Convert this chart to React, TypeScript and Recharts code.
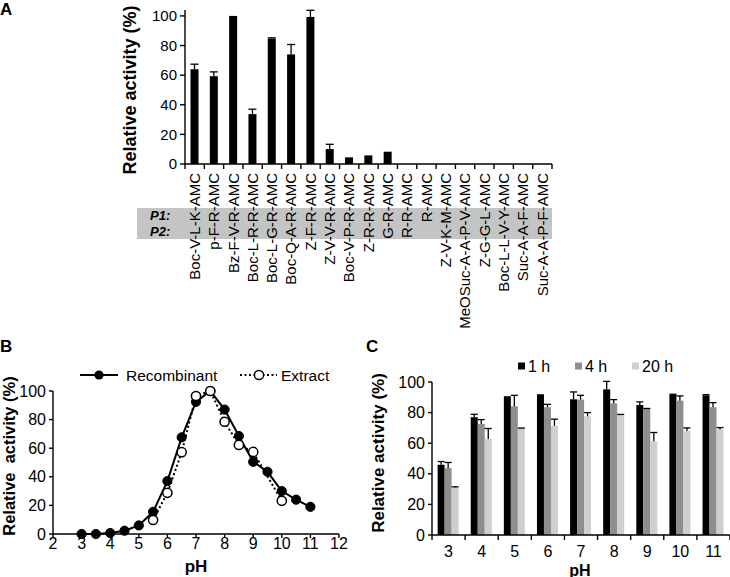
import React from "react";
import { BarChart, Bar, XAxis, YAxis, LineChart, Line } from "recharts";

const FONT = "'Liberation Sans', Arial, Helvetica, sans-serif";

// A: substrate specificity
const substrates = [
  "Boc-V-L-K-AMC",
  "p-F-R-AMC",
  "Bz-F-V-R-AMC",
  "Boc-L-R-R-AMC",
  "Boc-L-G-R-AMC",
  "Boc-Q-A-R-AMC",
  "Z-F-R-AMC",
  "Z-V-V-R-AMC",
  "Boc-V-P-R-AMC",
  "Z-R-R-AMC",
  "G-R-AMC",
  "R-R-AMC",
  "R-AMC",
  "Z-V-K-M-AMC",
  "MeOSuc-A-A-P-V-AMC",
  "Z-G-G-L-AMC",
  "Boc-L-L-V-Y-AMC",
  "Suc-A-A-F-AMC",
  "Suc-A-A-P-F-AMC",
];
const substrateActivity = [64, 59.3, 100, 33.7, 84.7, 74, 99.3, 10.1, 4.5, 5.8, 8.3, 0, 0, 0, 0, 0, 0, 0, 0];
const substrateError = [3.4, 2.9, 0, 3.3, 0.5, 6.7, 4.5, 3.2, 0, 0, 0, 0, 0, 0, 0, 0, 0, 0, 0];

// B: pH profile, recombinant vs extract
const phRecombinant = [3, 3.5, 4, 4.5, 5, 5.5, 6, 6.5, 7, 7.5, 8, 8.5, 9, 9.5, 10, 10.5, 11];
const recombinantActivity = [0, 0, 0.7, 2.3, 6, 15.5, 37, 67.6, 92.4, 100, 87, 68.5, 50.5, 43.5, 30, 24, 19];
const phExtract = [5.5, 6, 6.5, 7, 7.5, 8, 8.5, 9, 10];
const extractActivity = [9.8, 28.8, 57.2, 96.5, 100, 78.5, 62.3, 57.4, 23.2];
const phTicks = [2, 3, 4, 5, 6, 7, 8, 9, 10, 11, 12];

// C: pH stability over time
const phLevels = ["3", "4", "5", "6", "7", "8", "9", "10", "11"];
const act1h = [45.9, 77, 90.7, 92, 88.7, 95.2, 85, 92.4, 91.3];
const err1h = [2.1, 1.9, 0, 0, 4.8, 5.2, 2, 0, 0.4];
const act4h = [43.7, 72.6, 84.1, 83.5, 88.5, 86, 82.4, 87.8, 83.5];
const err4h = [3.7, 2.8, 7.2, 1.9, 2.8, 2.5, 0.3, 3.1, 3];
const act20h = [31.1, 62.8, 69.6, 71.3, 77.6, 78.5, 61.3, 68, 69];
const err20h = [0.4, 6.8, 0.3, 4.4, 2.4, 0.3, 5.7, 2, 1.2];

const percentTicks = [0, 20, 40, 60, 80, 100];

const dataA = substrates.map((name, i) => ({ name, value: substrateActivity[i], err: substrateError[i] }));
const dataRec = phRecombinant.map((ph, i) => ({ ph, activity: recombinantActivity[i] }));
const dataExt = phExtract.map((ph, i) => ({ ph, activity: extractActivity[i] }));
const dataC = phLevels.map((ph, i) => ({
  ph,
  h1: act1h[i],
  e1: err1h[i],
  h4: act4h[i],
  e4: err4h[i],
  h20: act20h[i],
  e20: err20h[i],
}));

// layout
const A_W = 560, A_H = 335, A_YW = 185, A_TOP = 10, A_RIGHT = 8, A_XH = 171;
const B_W = 360, B_H = 212, B_YW = 53, B_TOP = 26, B_RIGHT = 21, B_XH = 43;
const C_W = 365, C_H = 217, C_YW = 67, C_TOP = 22, C_RIGHT = 0, C_XH = 42;

const axisStyle = { stroke: "#000", strokeWidth: 1.4 };
const tickText = (size: number) => ({ fill: "#000", fontSize: size, fontFamily: FONT });

// bar with one-sided (upper) error whisker
const barWithErr = (valueKey: string, errKey: string) => (p: any) => {
  const { x, y, width, height, fill, payload } = p;
  const v = payload[valueKey];
  const e = payload[errKey];
  if (!v || height <= 0) return <g />;
  const k = height / v;
  const cx = x + width / 2;
  const top = y - e * k;
  const cap = width * 0.5;
  return (
    <g>
      <rect x={x} y={y} width={width} height={height} fill={fill} />
      {e > 0 && (
        <g stroke="#000" strokeWidth={1.3}>
          <line x1={cx} x2={cx} y1={y} y2={top} />
          <line x1={cx - cap} x2={cx + cap} y1={top} y2={top} />
        </g>
      )}
    </g>
  );
};

// category axis tick: marks on band boundaries, label in band centre
const bandTick =
  (count: number, half: number, size: number, rotated: boolean, labelDy: number) => (p: any) => {
    const { x, y, payload, index } = p;
    return (
      <g>
        <line x1={x - half} x2={x - half} y1={y} y2={y + 5} stroke="#000" strokeWidth={1.4} />
        {index === count - 1 && <line x1={x + half} x2={x + half} y1={y} y2={y + 5} stroke="#000" strokeWidth={1.4} />}
        {rotated ? (
          <text
            x={x}
            y={y + labelDy}
            transform={`rotate(-90, ${x}, ${y + labelDy})`}
            textAnchor="end"
            dy="0.35em"
            fontSize={size}
            fontFamily={FONT}
            fill="#000"
          >
            {payload.value}
          </text>
        ) : (
          <text x={x} y={y + labelDy} textAnchor="middle" fontSize={size} fontFamily={FONT} fill="#000">
            {payload.value}
          </text>
        )}
      </g>
    );
  };

const vTitle = (text: string, size: number, cx: number, cy: number) => () => (
  <text
    x={cx}
    y={cy}
    transform={`rotate(-90, ${cx}, ${cy})`}
    textAnchor="middle"
    dominantBaseline="central"
    fontFamily={FONT}
    fontWeight="bold"
    fontSize={size}
    fill="#000"
    style={{ whiteSpace: "pre" }}
  >
    {text}
  </text>
);

const hTitle = (text: string, size: number, cx: number, cy: number) => () => (
  <text x={cx} y={cy} textAnchor="middle" fontFamily={FONT} fontWeight="bold" fontSize={size} fill="#000">
    {text}
  </text>
);

function PanelA() {
  const half = (A_W - A_YW - A_RIGHT) / substrates.length / 2;
  return (
    <BarChart
      width={A_W}
      height={A_H}
      data={dataA}
      margin={{ top: A_TOP, right: A_RIGHT, left: 0, bottom: 0 }}
      barCategoryGap="28.5%"
    >
      <XAxis
        dataKey="name"
        height={A_XH}
        interval={0}
        tickSize={0}
        tickMargin={0}
        tickLine={false}
        axisLine={axisStyle}
        tick={bandTick(substrates.length, half, 15, true, 9)}
      />
      <YAxis
        width={A_YW}
        domain={[0, 104]}
        ticks={percentTicks}
        tickSize={5}
        tickMargin={3}
        axisLine={axisStyle}
        tickLine={axisStyle}
        tick={tickText(15)}
        label={vTitle("Relative activity (%)", 18, 130, 90)}
      />
      <Bar dataKey="value" fill="#000" isAnimationActive={false} shape={barWithErr("value", "err")} />
    </BarChart>
  );
}

function PanelB() {
  return (
    <LineChart width={B_W} height={B_H} margin={{ top: B_TOP, right: B_RIGHT, left: 0, bottom: 0 }}>
      <XAxis
        dataKey="ph"
        type="number"
        domain={[2, 12]}
        ticks={phTicks}
        height={B_XH}
        tickSize={4}
        tickMargin={0}
        axisLine={axisStyle}
        tickLine={axisStyle}
        tick={tickText(16)}
        label={hTitle("pH", 17, 196, 207)}
      />
      <YAxis
        width={B_YW}
        domain={[0, 100]}
        ticks={percentTicks}
        tickSize={4}
        tickMargin={3}
        axisLine={axisStyle}
        tickLine={axisStyle}
        tick={tickText(16)}
        label={vTitle("Relative  activity (%)", 16.5, 9, 91)}
      />
      <Line
        data={dataRec}
        dataKey="activity"
        type="linear"
        stroke="#000"
        strokeWidth={2}
        dot={{ r: 4.6, fill: "#000", stroke: "#000", strokeWidth: 1 }}
        isAnimationActive={false}
      />
      <Line
        data={dataExt}
        dataKey="activity"
        type="linear"
        stroke="#000"
        strokeWidth={2}
        strokeDasharray="2 2.5"
        dot={{ r: 4.6, fill: "#fff", stroke: "#000", strokeWidth: 1.5, strokeDasharray: "none" }}
        isAnimationActive={false}
      />
    </LineChart>
  );
}

function PanelC() {
  const half = (C_W - C_YW - C_RIGHT) / phLevels.length / 2;
  return (
    <BarChart
      width={C_W}
      height={C_H}
      data={dataC}
      margin={{ top: C_TOP, right: C_RIGHT, left: 0, bottom: 0 }}
      barCategoryGap="17%"
      barGap={0}
    >
      <XAxis
        dataKey="ph"
        height={C_XH}
        interval={0}
        tickSize={0}
        tickMargin={0}
        tickLine={false}
        axisLine={axisStyle}
        tick={bandTick(phLevels.length, half, 16, false, 22)}
        label={hTitle("pH", 16, 215, 215.5)}
      />
      <YAxis
        width={C_YW}
        domain={[0, 100]}
        ticks={percentTicks}
        tickSize={4}
        tickMargin={3}
        axisLine={axisStyle}
        tickLine={axisStyle}
        tick={tickText(16)}
        label={vTitle("Relative activity (%)", 17, 13, 93)}
      />
      <Bar dataKey="h1" fill="#000" isAnimationActive={false} shape={barWithErr("h1", "e1")} />
      <Bar dataKey="h4" fill="#8e8e8e" isAnimationActive={false} shape={barWithErr("h4", "e4")} />
      <Bar dataKey="h20" fill="#cfcfcf" isAnimationActive={false} shape={barWithErr("h20", "e20")} />
    </BarChart>
  );
}

export default function App() {
  return (
    <div
      style={{
        position: "absolute",
        left: 0,
        top: 0,
        width: 730,
        height: 577,
        overflow: "hidden",
        background: "#fff",
        fontFamily: FONT,
      }}
    >
      {/* P1/P2 band behind the substrate labels */}
      <div style={{ position: "absolute", left: 137, top: 208, width: 415, height: 31, background: "#c4c4c4" }} />
      <div style={{ position: "absolute", left: 0, top: 0 }}>
        <PanelA />
      </div>
      <div style={{ position: "absolute", left: 0, top: 365 }}>
        <PanelB />
      </div>
      <div style={{ position: "absolute", left: 365, top: 360 }}>
        <PanelC />
      </div>
      <svg
        width={730}
        height={577}
        style={{ position: "absolute", left: 0, top: 0, pointerEvents: "none" }}
        fontFamily={FONT}
      >
        <text x={0} y={15} fontSize={17} fontWeight="bold">A</text>
        <text x={0} y={352} fontSize={17} fontWeight="bold">B</text>
        <text x={366} y={352} fontSize={17} fontWeight="bold">C</text>

        <text x={150} y={220} fontSize={13} fontWeight="bold" fontStyle="italic">P1:</text>
        <text x={150} y={236} fontSize={13} fontWeight="bold" fontStyle="italic">P2:</text>

        <line x1={80} x2={118} y1={375} y2={375} stroke="#000" strokeWidth={2} />
        <circle cx={99} cy={375} r={4.6} fill="#000" />
        <text x={126} y={375} fontSize={15.5} dominantBaseline="central">Recombinant</text>
        <line x1={240} x2={277} y1={375} y2={375} stroke="#000" strokeWidth={2} strokeDasharray="2 2.5" />
        <circle cx={259} cy={375} r={4.6} fill="#fff" stroke="#000" strokeWidth={1.5} />
        <text x={281} y={375} fontSize={15.5} dominantBaseline="central">Extract</text>

        <rect x={518} y={362.5} width={7} height={7} fill="#000" />
        <text x={528} y={366} fontSize={16} dominantBaseline="central">1 h</text>
        <rect x={575} y={362.5} width={7} height={7} fill="#8e8e8e" />
        <text x={585} y={366} fontSize={16} dominantBaseline="central">4 h</text>
        <rect x={632} y={362.5} width={7} height={7} fill="#cfcfcf" />
        <text x={642} y={366} fontSize={16} dominantBaseline="central">20 h</text>
      </svg>
    </div>
  );
}
